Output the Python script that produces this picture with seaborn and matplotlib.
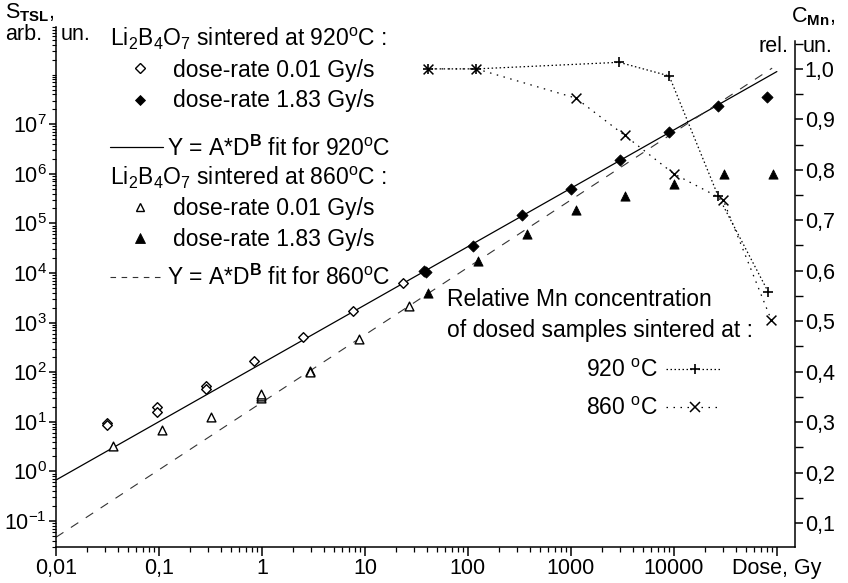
import numpy as np
import matplotlib
matplotlib.use("Agg")
import matplotlib.pyplot as plt
import seaborn as sns
from matplotlib.ticker import FixedLocator, NullFormatter, FixedFormatter

# ---------------- data ----------------
open920_dose = [0.031, 0.031, 0.095, 0.095, 0.286, 0.286, 0.84, 2.5, 7.7, 23.5]
open920_tsl = [9.5, 8.7, 19.8, 15.6, 53, 46, 165, 515, 1750, 6300]
fill920_dose = [37.7, 39.5, 111, 333, 993, 2990, 9000, 26900, 80500]
fill920_tsl = [10900, 10300, 34800, 145000, 500000, 1.86e6, 6.8e6, 2.3e7, 3.6e7]
open860_dose = [0.036, 0.108, 0.32, 0.98, 0.98, 0.98, 2.92, 2.92, 8.8, 26.6]
open860_tsl = [3.3, 6.7, 12.4, 30, 33, 37, 104, 100, 468, 2150]
fill860_dose = [41, 124, 372, 1120, 3340, 10070, 30600, 92000]
fill860_tsl = [4000, 17400, 60000, 1.9e5, 3.6e5, 6.2e5, 9.8e5, 1.0e6]
fit920_dose = [0.01, 1e5]
fit920_tsl = [0.67, 1.15e8]
fit860_dose = [0.01, 9e4]
fit860_tsl = [0.047, 1.35e8]
mn920_dose = [40.6, 121, 2940, 9000, 26900, 82400]
mn920_conc = [1.0, 1.0, 1.013, 0.986, 0.748, 0.558]
mn860_dose = [40.6, 121, 1120, 3340, 10000, 30000, 88000]
mn860_conc = [1.0, 1.0, 0.942, 0.868, 0.792, 0.741, 0.503]

x_ticks = [0.01, 0.1, 1, 10, 100, 1000, 10000, 100000]
x_ticklabels = ["0,01", "0,1", "1", "10", "100", "1000", "10000", "Dose, Gy"]
y_exponents = [-1, 0, 1, 2, 3, 4, 5, 6, 7]
c_ticks = [0.1, 0.2, 0.3, 0.4, 0.5, 0.6, 0.7, 0.8, 0.9, 1.0]
c_ticklabels = ["0,1", "0,2", "0,3", "0,4", "0,5", "0,6", "0,7", "0,8", "0,9", "1,0"]

# ---------------- style ----------------
sns.set_theme(style="ticks")
plt.rcParams["font.family"] = ["Liberation Sans", "DejaVu Sans"]
plt.rcParams["mathtext.fontset"] = "custom"
plt.rcParams["mathtext.rm"] = "Liberation Sans"
plt.rcParams["mathtext.it"] = "Liberation Sans:italic"
plt.rcParams["mathtext.bf"] = "Liberation Sans:bold"
plt.rcParams["mathtext.default"] = "regular"
for k in ["text.color", "axes.labelcolor", "xtick.color", "ytick.color", "axes.edgecolor"]:
    plt.rcParams[k] = "black"

W, H = 848, 583
FS = 16.5
TFS = 15.5
fig = plt.figure(figsize=(W / 100, H / 100), dpi=100)
L, R, B, T = 56, 795, 547, 27
XLIM = (0.01, 1.5e5)
YLIM = (0.0299, 9.1e8)
ax = fig.add_axes([L / W, 1 - B / H, (R - L) / W, (B - T) / H])
ax.set_xscale("log")
ax.set_yscale("log")

# fits
sns.lineplot(x=fit920_dose, y=fit920_tsl, ax=ax, color="black", lw=0.9,
             estimator=None, sort=False, zorder=2)
sns.lineplot(x=fit860_dose, y=fit860_tsl, ax=ax, color="#333333", lw=0.8,
             estimator=None, sort=False, zorder=2, linestyle=(0, (8, 8)))

# points
sns.scatterplot(x=open920_dose, y=open920_tsl, ax=ax, marker="D", s=24,
                color="black", facecolor="white", edgecolor="black", linewidth=1.0, zorder=3)
sns.scatterplot(x=fill920_dose, y=fill920_tsl, ax=ax, marker="D", s=32,
                color="black", edgecolor="black", linewidth=0.6, zorder=3)
sns.scatterplot(x=open860_dose, y=open860_tsl, ax=ax, marker="^", s=40,
                color="black", facecolor="white", edgecolor="black", linewidth=1.0, zorder=3)
sns.scatterplot(x=fill860_dose, y=fill860_tsl, ax=ax, marker="^", s=44,
                color="black", edgecolor="black", linewidth=0.6, zorder=3)

# right axis: Mn concentration
ax2 = ax.twinx()
sns.lineplot(x=mn920_dose, y=mn920_conc, ax=ax2, color="black", lw=0.9,
             estimator=None, sort=False, linestyle=(0, (1.2, 2.0)), zorder=2)
sns.lineplot(x=mn860_dose, y=mn860_conc, ax=ax2, color="black", lw=0.9,
             estimator=None, sort=False, linestyle=(0, (1.2, 4.4)), zorder=2)
sns.scatterplot(x=mn920_dose, y=mn920_conc, ax=ax2, marker="+", s=55,
                color="black", linewidth=1.2, zorder=3)
sns.scatterplot(x=mn860_dose, y=mn860_conc, ax=ax2, marker="x", s=50,
                color="black", linewidth=1.1, zorder=3)
ax2.set_ylim(0.0524, 1.083)
ax2.yaxis.set_major_locator(FixedLocator(c_ticks))
ax2.yaxis.set_major_formatter(FixedFormatter(c_ticklabels))
ax2.yaxis.set_minor_locator(FixedLocator([0.15, 0.25, 0.35, 0.45, 0.55, 0.65, 0.75, 0.85, 0.95, 1.05]))
ax2.yaxis.set_minor_formatter(NullFormatter())
ax2.tick_params(axis="y", which="major", length=5.5, width=1.1, labelsize=TFS, pad=1.5)
ax2.tick_params(axis="y", which="minor", length=5.5, width=1.0)
for s in ["top", "left", "bottom"]:
    ax2.spines[s].set_visible(False)
ax2.spines["right"].set_linewidth(1.1)
ax2.spines["right"].set_bounds(0.0524, 1.055)
ax2.set_xlabel("")
ax2.set_ylabel("")

# axes cosmetics (left / bottom) -- set after the twin so nothing resets them
ax.set_xlim(*XLIM)
ax.set_ylim(*YLIM)
ax.xaxis.set_major_locator(FixedLocator(x_ticks))
ax.xaxis.set_major_formatter(FixedFormatter(x_ticklabels))
xminor = [m * 10.0 ** k for k in range(-2, 6) for m in range(2, 10)]
ax.xaxis.set_minor_locator(FixedLocator([v for v in xminor if v < XLIM[1]]))
ax.xaxis.set_minor_formatter(NullFormatter())
ax.yaxis.set_major_locator(FixedLocator([10.0 ** e for e in y_exponents]))
ax.yaxis.set_major_formatter(FixedFormatter([r"$10^{%d}$" % e for e in y_exponents]))
yminor = [m * 10.0 ** k for k in range(-2, 9) for m in range(1, 10)
          if not (m == 1 and k in y_exponents)]
ax.yaxis.set_minor_locator(FixedLocator([v for v in yminor if YLIM[0] <= v <= YLIM[1]]))
ax.yaxis.set_minor_formatter(NullFormatter())
ax.tick_params(axis="x", which="major", length=6.5, width=1.1, labelsize=TFS, pad=1.5)
ax.tick_params(axis="x", which="minor", length=3.6, width=0.9)
ax.tick_params(axis="y", which="major", length=5, width=1.1, labelsize=TFS, pad=1.5)
ax.tick_params(axis="y", which="minor", length=3, width=0.8)
for s in ["top", "right"]:
    ax.spines[s].set_visible(False)
for s in ["left", "bottom"]:
    ax.spines[s].set_linewidth(1.1)
ax.set_xlabel("")
ax.set_ylabel("")

# ---------------- overlay for legends / axis titles (pixel coords) ----------------
ov = fig.add_axes([0, 0, 1, 1], zorder=10)
ov.set_xlim(0, W)
ov.set_ylim(H, 0)
ov.axis("off")
ov.patch.set_alpha(0)

def txt(x, y, s, ha="left", size=FS):
    ov.text(x, y, s, ha=ha, va="baseline", fontsize=size)

txt(5, 18, r"S$_{\mathbf{TSL}}$,", size=15.5)
txt(5, 40, "arb.", size=15.5)
txt(61, 40, "un.", size=15.5)
txt(791, 22, r"C$_{\mathbf{Mn}}$,", size=15.5)
txt(788, 52, "rel.", ha="right", size=15.5)
txt(803, 52, "un.", size=15.5)

txt(110, 46, r"Li$_{2}$B$_{4}$O$_{7}$ sintered at 920$^{\mathrm{o}}$C :")
ov.plot([140], [68], marker="D", ms=4.8, mfc="white", mec="black", mew=1.0)
txt(173, 77, "dose-rate 0.01 Gy/s")
ov.plot([140], [100], marker="D", ms=5.4, mfc="black", mec="black", mew=0.6)
txt(173, 107, "dose-rate 1.83 Gy/s")
ov.plot([110, 163], [147, 147], color="black", lw=0.9)
txt(167, 156, r"Y = A*D$^{\mathbf{B}}$ fit for 920$^{\mathrm{o}}$C")
txt(110, 185, r"Li$_{2}$B$_{4}$O$_{7}$ sintered at 860$^{\mathrm{o}}$C :")
ov.plot([140], [207], marker="^", ms=6.2, mfc="white", mec="black", mew=1.0)
txt(173, 215, "dose-rate 0.01 Gy/s")
ov.plot([140], [238], marker="^", ms=6.6, mfc="black", mec="black", mew=0.6)
txt(173, 246, "dose-rate 1.83 Gy/s")
ov.plot([110, 163], [277, 277], color="#333333", lw=0.8, linestyle=(0, (5, 5)))
txt(167, 285, r"Y = A*D$^{\mathbf{B}}$ fit for 860$^{\mathrm{o}}$C")

txt(447, 306, "Relative Mn concentration")
txt(447, 337, "of dosed samples sintered at :")
txt(658, 377, r"920 $^{\mathrm{o}}$C", ha="right")
ov.plot([666, 722], [369, 369], color="black", lw=0.9, linestyle=(0, (1.2, 2.0)))
ov.plot([695], [369], marker="+", ms=7.4, color="black", mew=1.2)
txt(658, 415, r"860 $^{\mathrm{o}}$C", ha="right")
ov.plot([666, 718], [407, 407], color="black", lw=0.9, linestyle=(0, (1.2, 4.4)))
ov.plot([695], [407], marker="x", ms=7.0, color="black", mew=1.1)

fig.savefig("out.png", dpi=100)
